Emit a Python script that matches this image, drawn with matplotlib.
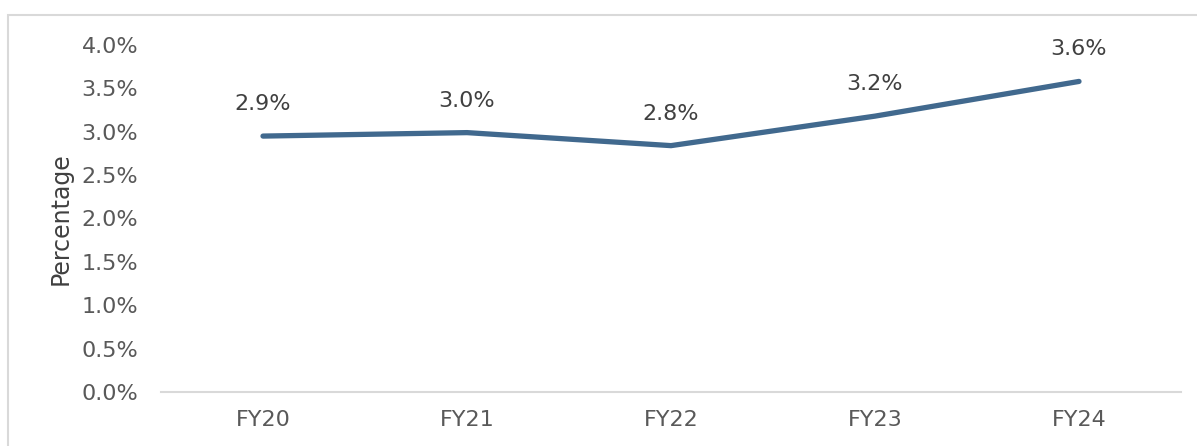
import matplotlib
matplotlib.use("Agg")
import matplotlib.pyplot as plt
from matplotlib.patches import Rectangle

categories = ["FY20", "FY21", "FY22", "FY23", "FY24"]
values = [2.95, 2.99, 2.84, 3.18, 3.58]
labels = ["2.9%", "3.0%", "2.8%", "3.2%", "3.6%"]
yticks = [0.0, 0.5, 1.0, 1.5, 2.0, 2.5, 3.0, 3.5, 4.0]

W, H = 1197, 446
fig = plt.figure(figsize=(W / 100, H / 100), dpi=100)
fig.patch.set_facecolor("white")

# outer frame
fig.patches.append(Rectangle((8 / W, -0.1), 1.2, (H - 15) / H + 0.1, transform=fig.transFigure,
                             fill=False, edgecolor="#D9D9D9", linewidth=1.5))

ax = fig.add_axes([161 / W, (H - 392) / H, (1181 - 161) / W, (392 - 45) / H])
x = list(range(len(categories)))
ax.plot(x, values, color="#41698E", linewidth=3.8, solid_capstyle="round")
for xi, v, lab in zip(x, values, labels):
    ax.annotate(lab, (xi, v), xytext=(0, 23), textcoords="offset points", ha="center",
                va="center", fontsize=16, color="#404040")

ax.set_xlim(-0.5, len(categories) - 0.5)
ax.set_ylim(0, 4.0)
ax.set_yticks(yticks)
ax.set_yticklabels([f"{t:.1f}%" for t in yticks])
ax.set_xticks(x)
ax.set_xticklabels(categories)
ax.tick_params(axis="both", length=0, labelsize=16, labelcolor="#595959")
ax.tick_params(axis="y", pad=16.5)
ax.tick_params(axis="x", pad=13)
for s in ["top", "right", "left"]:
    ax.spines[s].set_visible(False)
ax.spines["bottom"].set_color("#D9D9D9")
ax.spines["bottom"].set_linewidth(1.5)
ax.set_ylabel("Percentage", fontsize=17, color="#404040", labelpad=6)
ax.patch.set_alpha(0)

fig.savefig("out.png", dpi=100)
